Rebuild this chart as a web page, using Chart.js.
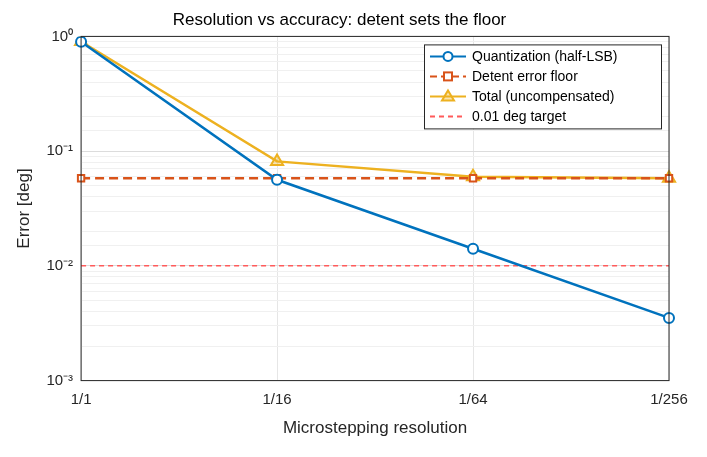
<!DOCTYPE html>
<html>
<head>
<meta charset="utf-8">
<script src="https://cdn.jsdelivr.net/npm/chart.js@4"></script>
<style>
  html, body { margin: 0; padding: 0; background: #fff; }
  #wrap { width: 707px; height: 457px; }
</style>
</head>
<body>
<div id="wrap"><canvas id="c"></canvas></div>
<script>
// Data
const resolutions = ['1/1', '1/16', '1/64', '1/256'];
const quantization = [0.9, 0.05625, 0.0141, 0.00352];
const detentFloor = [0.058, 0.058, 0.058, 0.058];
const totalError = [0.902, 0.0814, 0.0597, 0.0581];
const target = [0.01, 0.01, 0.01, 0.01];
const decadeLabels = { '1': '10\u2070', '0.1': '10\u207B\u00B9', '0.01': '10\u207B\u00B2', '0.001': '10\u207B\u00B3' };

const legendItems = [
    { text: 'Quantization (half-LSB)', color: '#0072BD', dash: [], marker: 'circle' },
    { text: 'Detent error floor', color: '#D95319', dash: [7, 4], marker: 'rect' },
    { text: 'Total (uncompensated)', color: '#EDB120', dash: [], marker: 'triangle' },
    { text: '0.01 deg target', color: '#FF5A5A', dash: [5, 4], marker: null }
];

const boxLegend = {
    id: 'boxLegend',
    afterDraw(chart) {
        const ctx = chart.ctx;
        const area = chart.chartArea;
        const w = 237, h = 84;
        const x0 = area.right - w - 8, y0 = area.top + 8;
        ctx.save();
        ctx.fillStyle = '#fff';
        ctx.strokeStyle = '#262626';
        ctx.lineWidth = 1;
        ctx.fillRect(x0, y0, w, h);
        ctx.strokeRect(x0 + 0.5, y0 + 0.5, w, h);
        ctx.font = '14px "Liberation Sans", Arial, sans-serif';
        ctx.textBaseline = 'middle';
        legendItems.forEach(function(it, i) {
            const y = y0 + 12 + i * 20;
            ctx.strokeStyle = it.color;
            ctx.lineWidth = 2;
            ctx.setLineDash(it.dash);
            ctx.beginPath();
            ctx.moveTo(x0 + 6, y);
            ctx.lineTo(x0 + 42, y);
            ctx.stroke();
            ctx.setLineDash([]);
            const mx = x0 + 24;
            if (it.marker === 'circle') {
                ctx.fillStyle = '#fff';
                ctx.beginPath(); ctx.arc(mx, y, 4.5, 0, Math.PI * 2); ctx.fill(); ctx.stroke();
            } else if (it.marker === 'rect') {
                ctx.fillStyle = '#fff';
                ctx.fillRect(mx - 4, y - 4, 8, 8); ctx.strokeRect(mx - 4, y - 4, 8, 8);
            } else if (it.marker === 'triangle') {
                ctx.fillStyle = 'rgba(237,177,32,0.35)';
                ctx.beginPath(); ctx.moveTo(mx, y - 6); ctx.lineTo(mx + 6, y + 4); ctx.lineTo(mx - 6, y + 4); ctx.closePath(); ctx.fill(); ctx.stroke();
            }
            ctx.fillStyle = '#000';
            ctx.fillText(it.text, x0 + 48, y + 1);
        });
        ctx.restore();
    }
};

const frame = {
    id: 'frame',
    afterDatasetsDraw(chart) {
        const a = chart.chartArea, ctx = chart.ctx;
        ctx.save();
        ctx.strokeStyle = '#262626';
        ctx.lineWidth = 1;
        ctx.strokeRect(a.left, a.top, a.right - a.left, a.bottom - a.top);
        ctx.restore();
    }
};

new Chart(document.getElementById('c'), {
    type: 'line',
    data: {
        labels: resolutions,
        datasets: [
            { label: 'Quantization (half-LSB)', data: quantization, borderColor: '#0072BD', borderWidth: 2.5,
              pointStyle: 'circle', pointRadius: 5, pointBorderWidth: 2, pointBackgroundColor: '#fff', pointBorderColor: '#0072BD', order: 1 },
            { label: 'Detent error floor', data: detentFloor, borderColor: '#D95319', borderWidth: 2.5, borderDash: [9, 5],
              pointStyle: 'rect', pointRadius: 4.5, pointBorderWidth: 2, pointBackgroundColor: '#fff', pointBorderColor: '#D95319', order: 2 },
            { label: 'Total (uncompensated)', data: totalError, borderColor: '#EDB120', borderWidth: 2.5,
              pointStyle: 'triangle', pointRadius: 7, pointBorderWidth: 2, pointBackgroundColor: 'rgba(237,177,32,0.35)', pointBorderColor: '#EDB120', order: 3 },
            { label: '0.01 deg target', data: target, borderColor: '#FF5A5A', borderWidth: 1.5, borderDash: [5, 4], pointRadius: 0, order: 4 }
        ]
    },
    options: {
        responsive: true,
        maintainAspectRatio: false,
        animation: false,
        layout: { padding: { left: 10, right: 38, top: 4, bottom: 14 } },
        plugins: {
            legend: { display: false },
            tooltip: { enabled: false },
            title: { display: true, text: 'Resolution vs accuracy: detent sets the floor', color: '#000',
                     font: { size: 17, family: '"Liberation Sans", Arial, sans-serif', weight: 'normal' }, padding: { top: 6, bottom: 6 } }
        },
        scales: {
            x: {
                offset: false,
                grid: { color: '#e6e6e6', drawTicks: false },
                border: { display: false },
                ticks: { color: '#262626', padding: 10, font: { size: 15, family: '"Liberation Sans", Arial, sans-serif' } },
                title: { display: true, text: 'Microstepping resolution', color: '#262626', padding: { top: 0 },
                         font: { size: 17, family: '"Liberation Sans", Arial, sans-serif' } }
            },
            y: {
                type: 'logarithmic',
                min: 0.001,
                max: 1,
                grid: {
                    drawTicks: false,
                    color: function(c) {
                        const v = c.tick ? c.tick.value : 0;
                        const isDecade = Math.abs(Math.log10(v) - Math.round(Math.log10(v))) < 1e-6;
                        return isDecade ? '#dcdcdc' : '#f0f0f0';
                    }
                },
                border: { display: false },
                ticks: {
                    autoSkip: false,
                    color: '#262626',
                    padding: 8,
                    font: { size: 15, family: '"Liberation Sans", Arial, sans-serif' },
                    callback: function(v) {
                        const key = String(+v.toPrecision(6));
                        return decadeLabels[key] || '';
                    }
                },
                title: { display: true, text: 'Error [deg]', color: '#262626',
                         font: { size: 17, family: '"Liberation Sans", Arial, sans-serif' } }
            }
        }
    },
    plugins: [frame, boxLegend]
});
</script>
</body>
</html>
